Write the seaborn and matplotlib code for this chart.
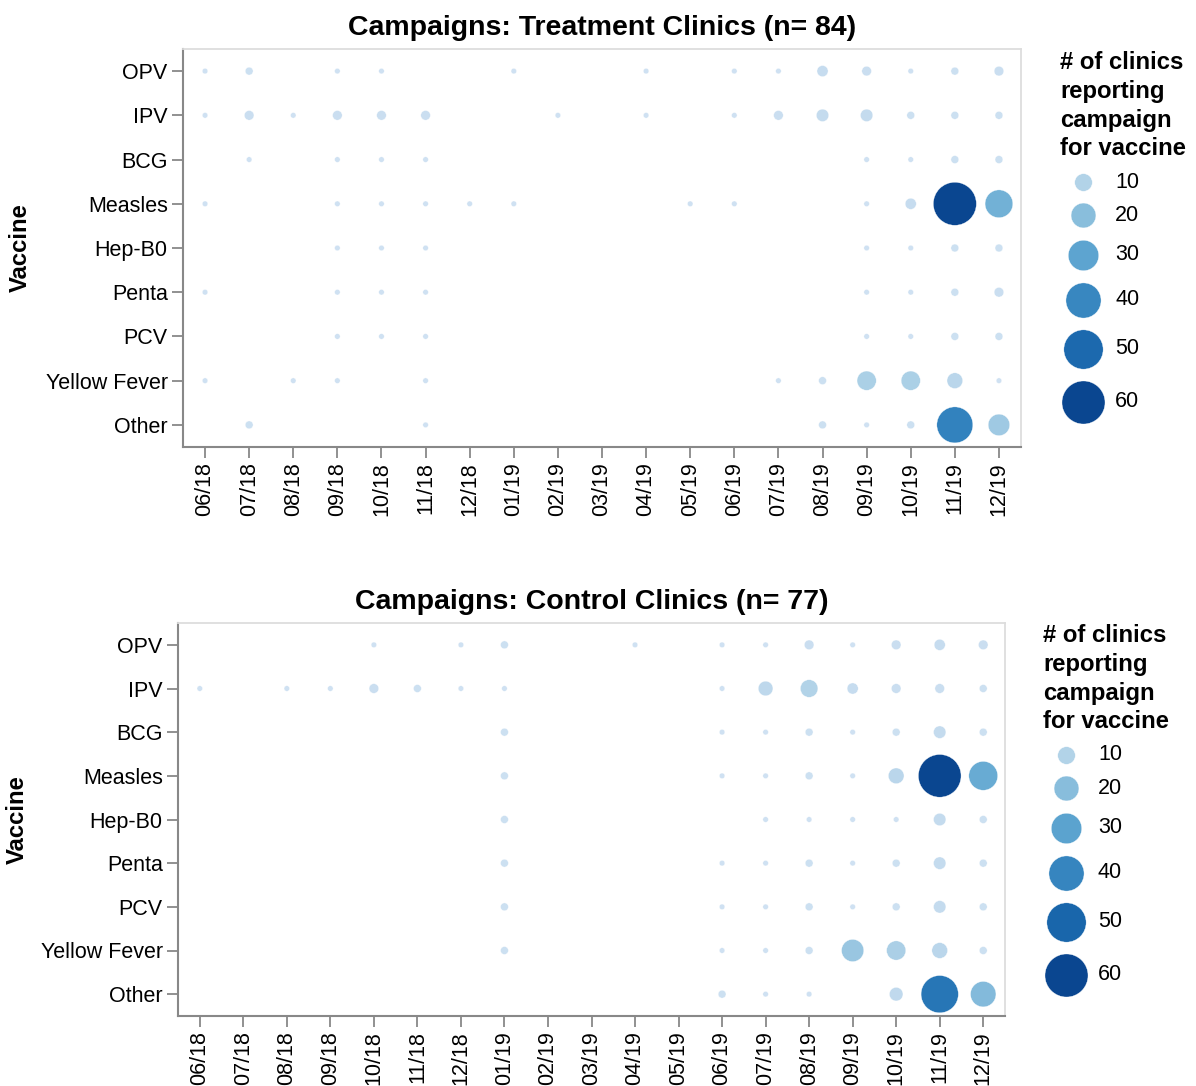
import numpy as np
import pandas as pd
import matplotlib
matplotlib.use("Agg")
import matplotlib.pyplot as plt
from matplotlib.colors import LinearSegmentedColormap, Normalize
import seaborn as sns

sns.set_theme(style="white")
plt.rcParams['font.family'] = ['Liberation Sans', 'DejaVu Sans']
plt.rcParams['text.color'] = 'black'
plt.rcParams['axes.labelcolor'] = 'black'
plt.rcParams['xtick.color'] = 'black'
plt.rcParams['ytick.color'] = 'black'

months = ["06/18", "07/18", "08/18", "09/18", "10/18", "11/18", "12/18",
          "01/19", "02/19", "03/19", "04/19", "05/19", "06/19", "07/19",
          "08/19", "09/19", "10/19", "11/19", "12/19"]
vaccines = ["OPV", "IPV", "BCG", "Measles", "Hep-B0", "Penta", "PCV",
            "Yellow Fever", "Other"]

# number of clinics reporting a campaign (0 = none)
treatment_counts = [
    [1, 2, 0, 1, 1, 0, 0, 1, 0, 0, 1, 0, 1, 1, 4, 3, 1, 2, 3],   # OPV
    [1, 3, 1, 3, 3, 3, 0, 0, 1, 0, 1, 0, 1, 3, 5, 5, 2, 2, 2],   # IPV
    [0, 1, 0, 1, 1, 1, 0, 0, 0, 0, 0, 0, 0, 0, 0, 1, 1, 2, 2],   # BCG
    [1, 0, 0, 1, 1, 1, 1, 1, 0, 0, 0, 1, 1, 0, 0, 1, 4, 60, 25], # Measles
    [0, 0, 0, 1, 1, 1, 0, 0, 0, 0, 0, 0, 0, 0, 0, 1, 1, 2, 2],   # Hep-B0
    [1, 0, 0, 1, 1, 1, 0, 0, 0, 0, 0, 0, 0, 0, 0, 1, 1, 2, 3],   # Penta
    [0, 0, 0, 1, 1, 1, 0, 0, 0, 0, 0, 0, 0, 0, 0, 1, 1, 2, 2],   # PCV
    [1, 0, 1, 1, 0, 1, 0, 0, 0, 0, 0, 0, 0, 1, 2, 12, 12, 8, 1], # Yellow Fever
    [0, 2, 0, 0, 0, 1, 0, 0, 0, 0, 0, 0, 0, 0, 2, 1, 2, 42, 15], # Other
]
control_counts = [
    [0, 0, 0, 0, 1, 0, 1, 2, 0, 0, 1, 0, 1, 1, 3, 1, 3, 4, 3],   # OPV
    [1, 0, 1, 1, 3, 2, 1, 1, 0, 0, 0, 0, 1, 7, 10, 4, 3, 3, 2],  # IPV
    [0, 0, 0, 0, 0, 0, 0, 2, 0, 0, 0, 0, 1, 1, 2, 1, 2, 5, 2],   # BCG
    [0, 0, 0, 0, 0, 0, 0, 2, 0, 0, 0, 0, 1, 1, 2, 1, 8, 59, 27], # Measles
    [0, 0, 0, 0, 0, 0, 0, 2, 0, 0, 0, 0, 0, 1, 1, 1, 1, 5, 2],   # Hep-B0
    [0, 0, 0, 0, 0, 0, 0, 2, 0, 0, 0, 0, 1, 1, 2, 1, 2, 5, 2],   # Penta
    [0, 0, 0, 0, 0, 0, 0, 2, 0, 0, 0, 0, 1, 1, 2, 1, 2, 5, 2],   # PCV
    [0, 0, 0, 0, 0, 0, 0, 2, 0, 0, 0, 0, 1, 1, 2, 16, 12, 8, 2], # Yellow Fever
    [0, 0, 0, 0, 0, 0, 0, 0, 0, 0, 0, 0, 2, 1, 1, 0, 6, 45, 21], # Other
]
panel_titles = ["Campaigns: Treatment Clinics (n= 84)",
                "Campaigns: Control Clinics (n= 77)"]
legend_values = [10, 20, 30, 40, 50, 60]
legend_title = "# of clinics\nreporting\ncampaign\nfor vaccine"

blues = ["#cfe1f2", "#bed8ec", "#a8cee5", "#8fc1de", "#74b2d7", "#5ba3cf",
         "#4592c6", "#3181bd", "#206fb2", "#125ca4", "#0a4690"]
cmap = LinearSegmentedColormap.from_list("vgblues", blues)

W, H = 1196, 1086
fig = plt.figure(figsize=(W / 100, H / 100), dpi=100)

S_PER_UNIT = 16.0  # marker area (pt^2) per clinic
SIZE_MAX = 60

# pixel boxes for panels: left, top, right, bottom
panels = [
    dict(box=(183, 49, 1021, 447), ylab=(20, 248), leg=(1060, 51, 1083, 1115)),
    dict(box=(178, 623, 1005, 1016), ylab=(17, 820), leg=(1043, 624, 1066, 1098)),
]

tick_fs = 15.5
grey = "#888888"

for counts, title, p in zip([treatment_counts, control_counts], panel_titles, panels):
    l, t, r, b = p["box"]
    ax = fig.add_axes([l / W, 1 - b / H, (r - l) / W, (b - t) / H])
    rows = []
    for vi, v in enumerate(vaccines):
        for mi, m in enumerate(months):
            c = counts[vi][mi]
            if c > 0:
                rows.append(dict(month=m, vaccine=v, mx=mi, vy=vi, count=c))
    df = pd.DataFrame(rows)
    vmin, vmax = df["count"].min(), df["count"].max()
    sns.scatterplot(data=df, x="mx", y="vy", size="count",
                    sizes=(0, S_PER_UNIT * SIZE_MAX), size_norm=(0, SIZE_MAX),
                    hue="count", palette=cmap, hue_norm=(vmin, vmax),
                    edgecolor="white", linewidth=0.25, legend=False, ax=ax,
                    zorder=3, clip_on=False)
    ax.set_xlim(-0.5, len(months) - 0.5)
    ax.set_ylim(len(vaccines) - 0.5, -0.5)
    ax.set_xticks(range(len(months)))
    ax.set_xticklabels(months, rotation=90, fontsize=tick_fs)
    ax.set_yticks(range(len(vaccines)))
    ax.set_yticklabels(vaccines, fontsize=tick_fs)
    ax.set_xlabel("")
    ax.set_ylabel("")
    ax.tick_params(axis="both", which="major", length=8, width=1.3,
                   color=grey, pad=3, labelcolor="black",
                   bottom=True, left=True)
    for side in ["top", "right"]:
        ax.spines[side].set_color("#dddddd")
        ax.spines[side].set_linewidth(1.3)
    for side in ["left", "bottom"]:
        ax.spines[side].set_color(grey)
        ax.spines[side].set_linewidth(1.5)
    ax.set_title(title, fontsize=20.5, fontweight="bold", pad=10, color="black")
    fig.text(p["ylab"][0] / W, 1 - p["ylab"][1] / H, "Vaccine", rotation=90,
             ha="center", va="center", fontsize=17.2, fontweight="bold")

    # legend (size + colour) drawn in figure pixel coordinates
    lx, ly, cx, tx = p["leg"]
    lax = fig.add_axes([0, 0, 1, 1], zorder=5)
    lax.set_xlim(0, W)
    lax.set_ylim(H, 0)
    lax.axis("off")
    lax.text(lx, ly, legend_title, ha="left", va="top", fontsize=17.2,
             fontweight="bold", linespacing=1.32)
    norm = Normalize(vmin, vmax)
    y = ly + 131
    prev_d = None
    for v in legend_values:
        d = np.sqrt(S_PER_UNIT * v) / 0.72  # diameter in px
        if prev_d is not None:
            y += (prev_d + d) / 2 + 12
        lax.scatter([cx], [y], s=S_PER_UNIT * v, color=cmap(norm(v)),
                    edgecolor="white", linewidth=0.25)
        lax.text(tx, y, str(v), ha="left", va="center", fontsize=tick_fs)
        prev_d = d

fig.savefig("out.png", dpi=100)
